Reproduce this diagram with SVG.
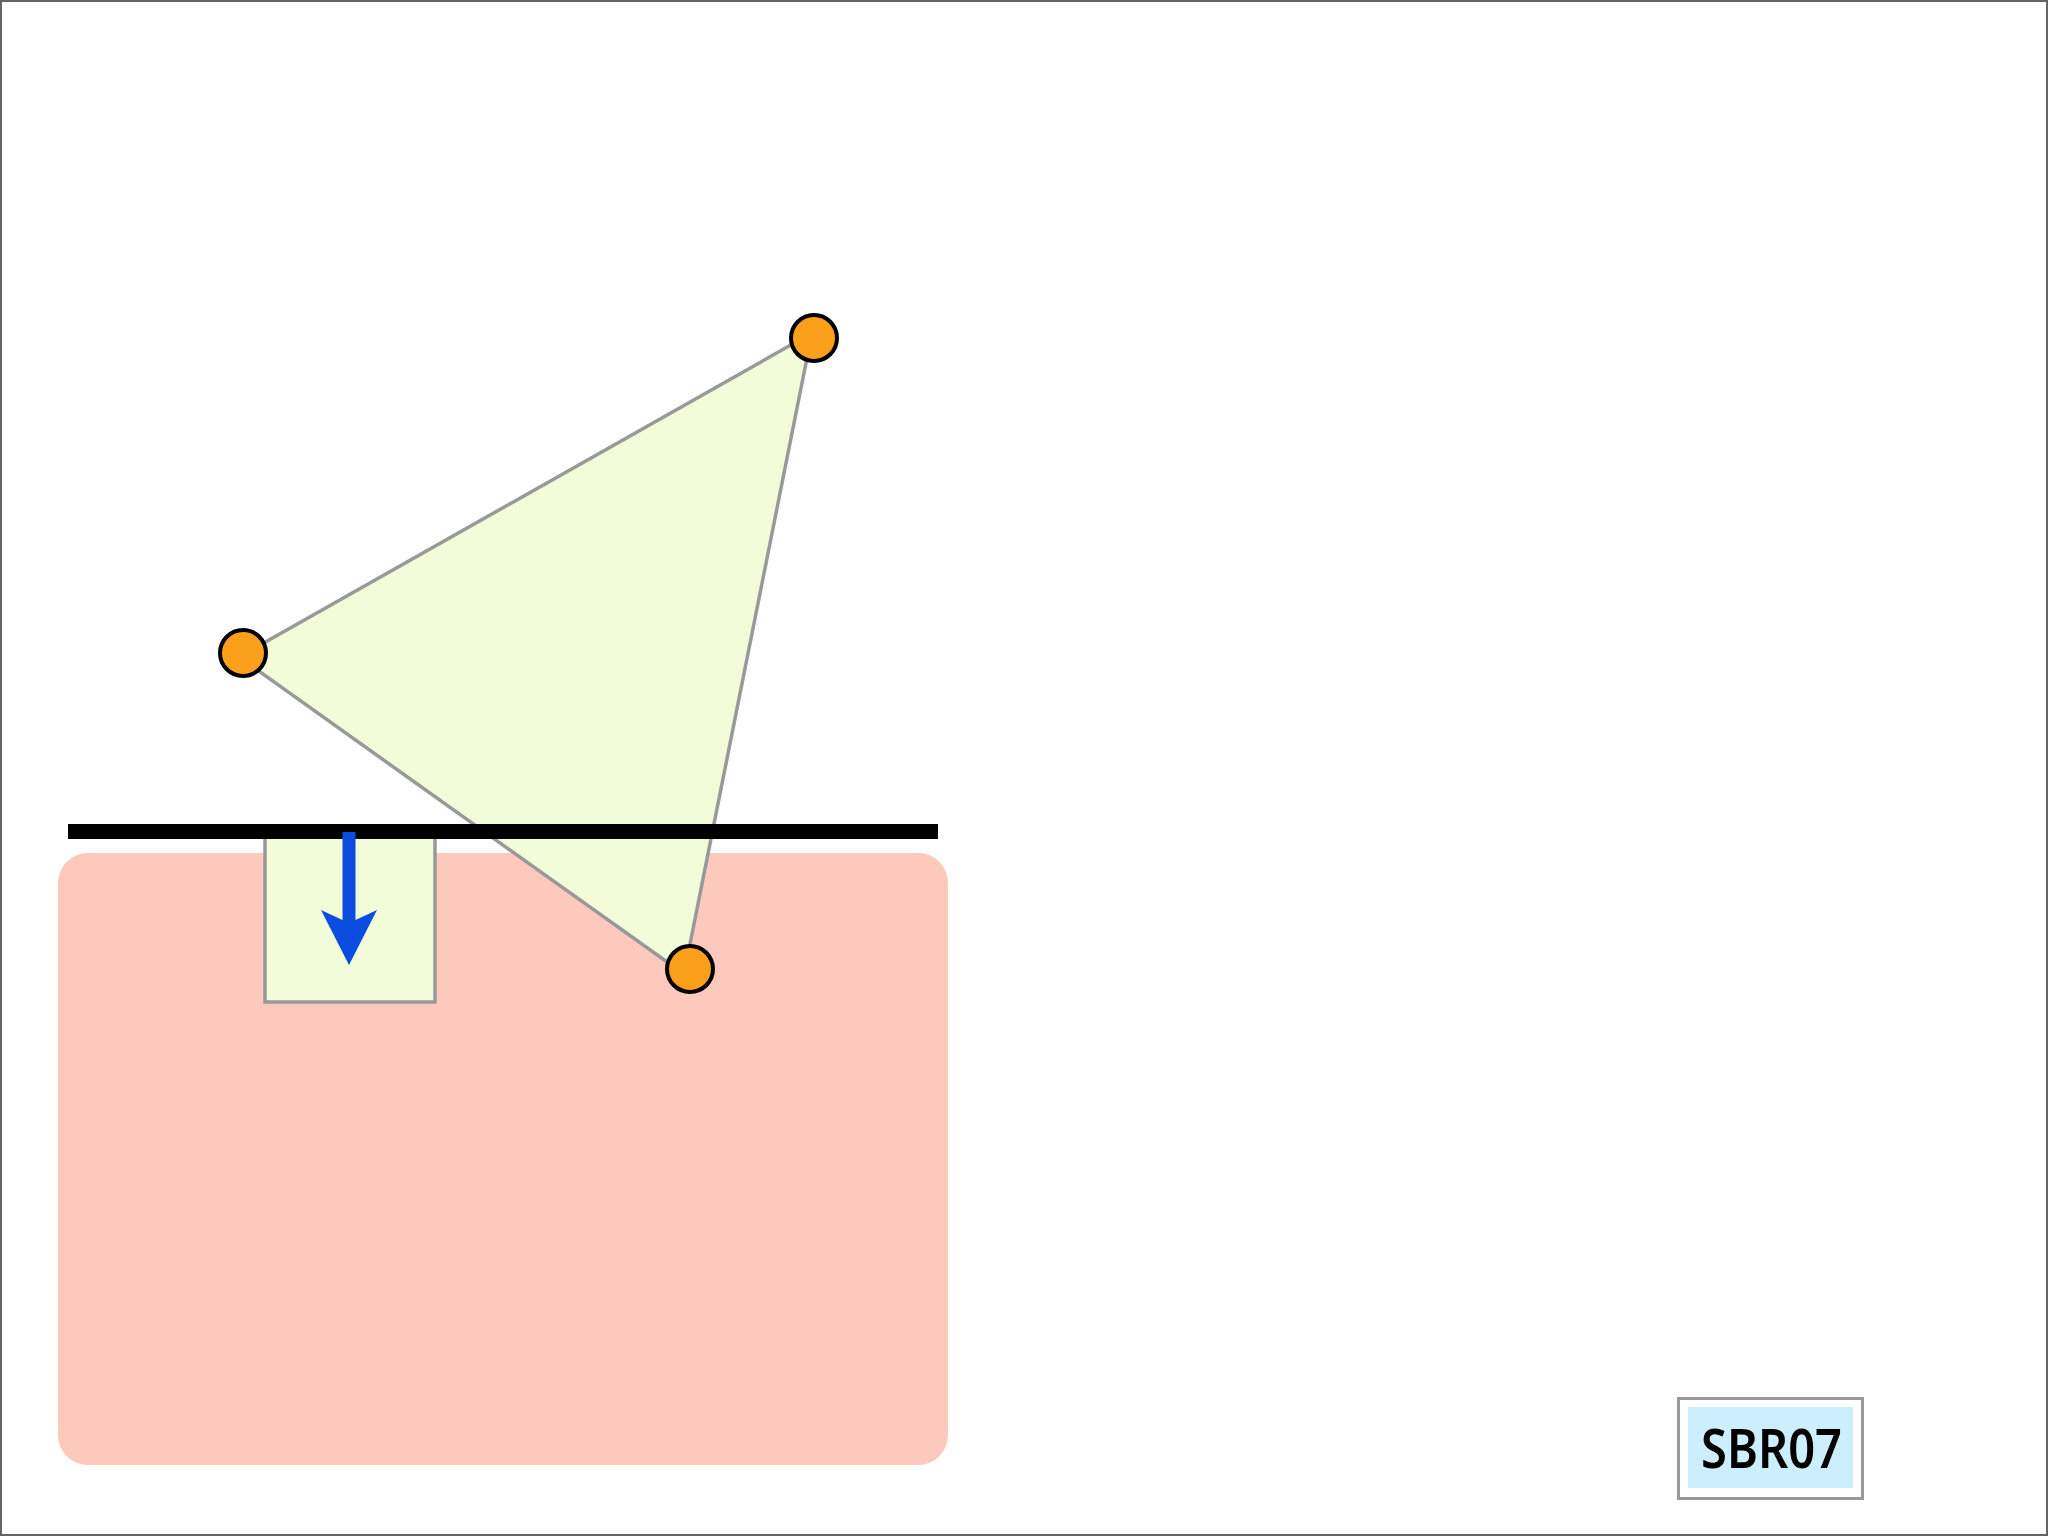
<svg xmlns="http://www.w3.org/2000/svg" width="2048" height="1536" viewBox="0 0 2048 1536">
  <style>
    .node { fill: #FBA01B; stroke: #000000; stroke-width: 4; }
    .lbl { font-family: "Noto Sans", "DejaVu Sans", "Liberation Sans", sans-serif; font-size: 55px; font-weight: 600; fill: #000000; }
  </style>
  <rect x="0" y="0" width="2048" height="1536" fill="#FFFFFF"/>
  <rect x="1" y="1" width="2046" height="1534" fill="none" stroke="#666666" stroke-width="2"/>

  <g id="zone">
    <rect x="58" y="853" width="890" height="612" rx="30" ry="30" fill="#FCC9BC"/>
  </g>

  <g id="box">
    <rect x="265" y="826" width="170" height="176" fill="#F3FCD9" stroke="#999999" stroke-width="3.5"/>
  </g>

  <g id="triangle">
    <polygon points="239,657 812,333 684,974" fill="#F3FCD9" stroke="#999999" stroke-width="3.5" stroke-linejoin="round"/>
  </g>

  <g id="bar">
    <rect x="68" y="824" width="870" height="15" fill="#000000"/>
  </g>

  <g id="connectors">
    <path d="M342.5,832 H355.5 V920 L377,910 L349,965 L321,910 L342.5,920 Z" fill="#0A4DE0"/>
  </g>

  <g id="node-top"><circle class="node" cx="814" cy="338" r="23"/></g>
  <g id="node-left"><circle class="node" cx="243" cy="653" r="23"/></g>
  <g id="node-bottom"><circle class="node" cx="690" cy="969" r="23"/></g>

  <g id="label">
    <rect x="1678.5" y="1398.5" width="184" height="100" fill="#FFFFFF" stroke="#999999" stroke-width="3"/>
    <rect x="1688" y="1407" width="165" height="81" fill="#CDEEFC"/>
    <text class="lbl" x="1701" y="1468" textLength="141" lengthAdjust="spacingAndGlyphs">SBR07</text>
  </g>
</svg>
